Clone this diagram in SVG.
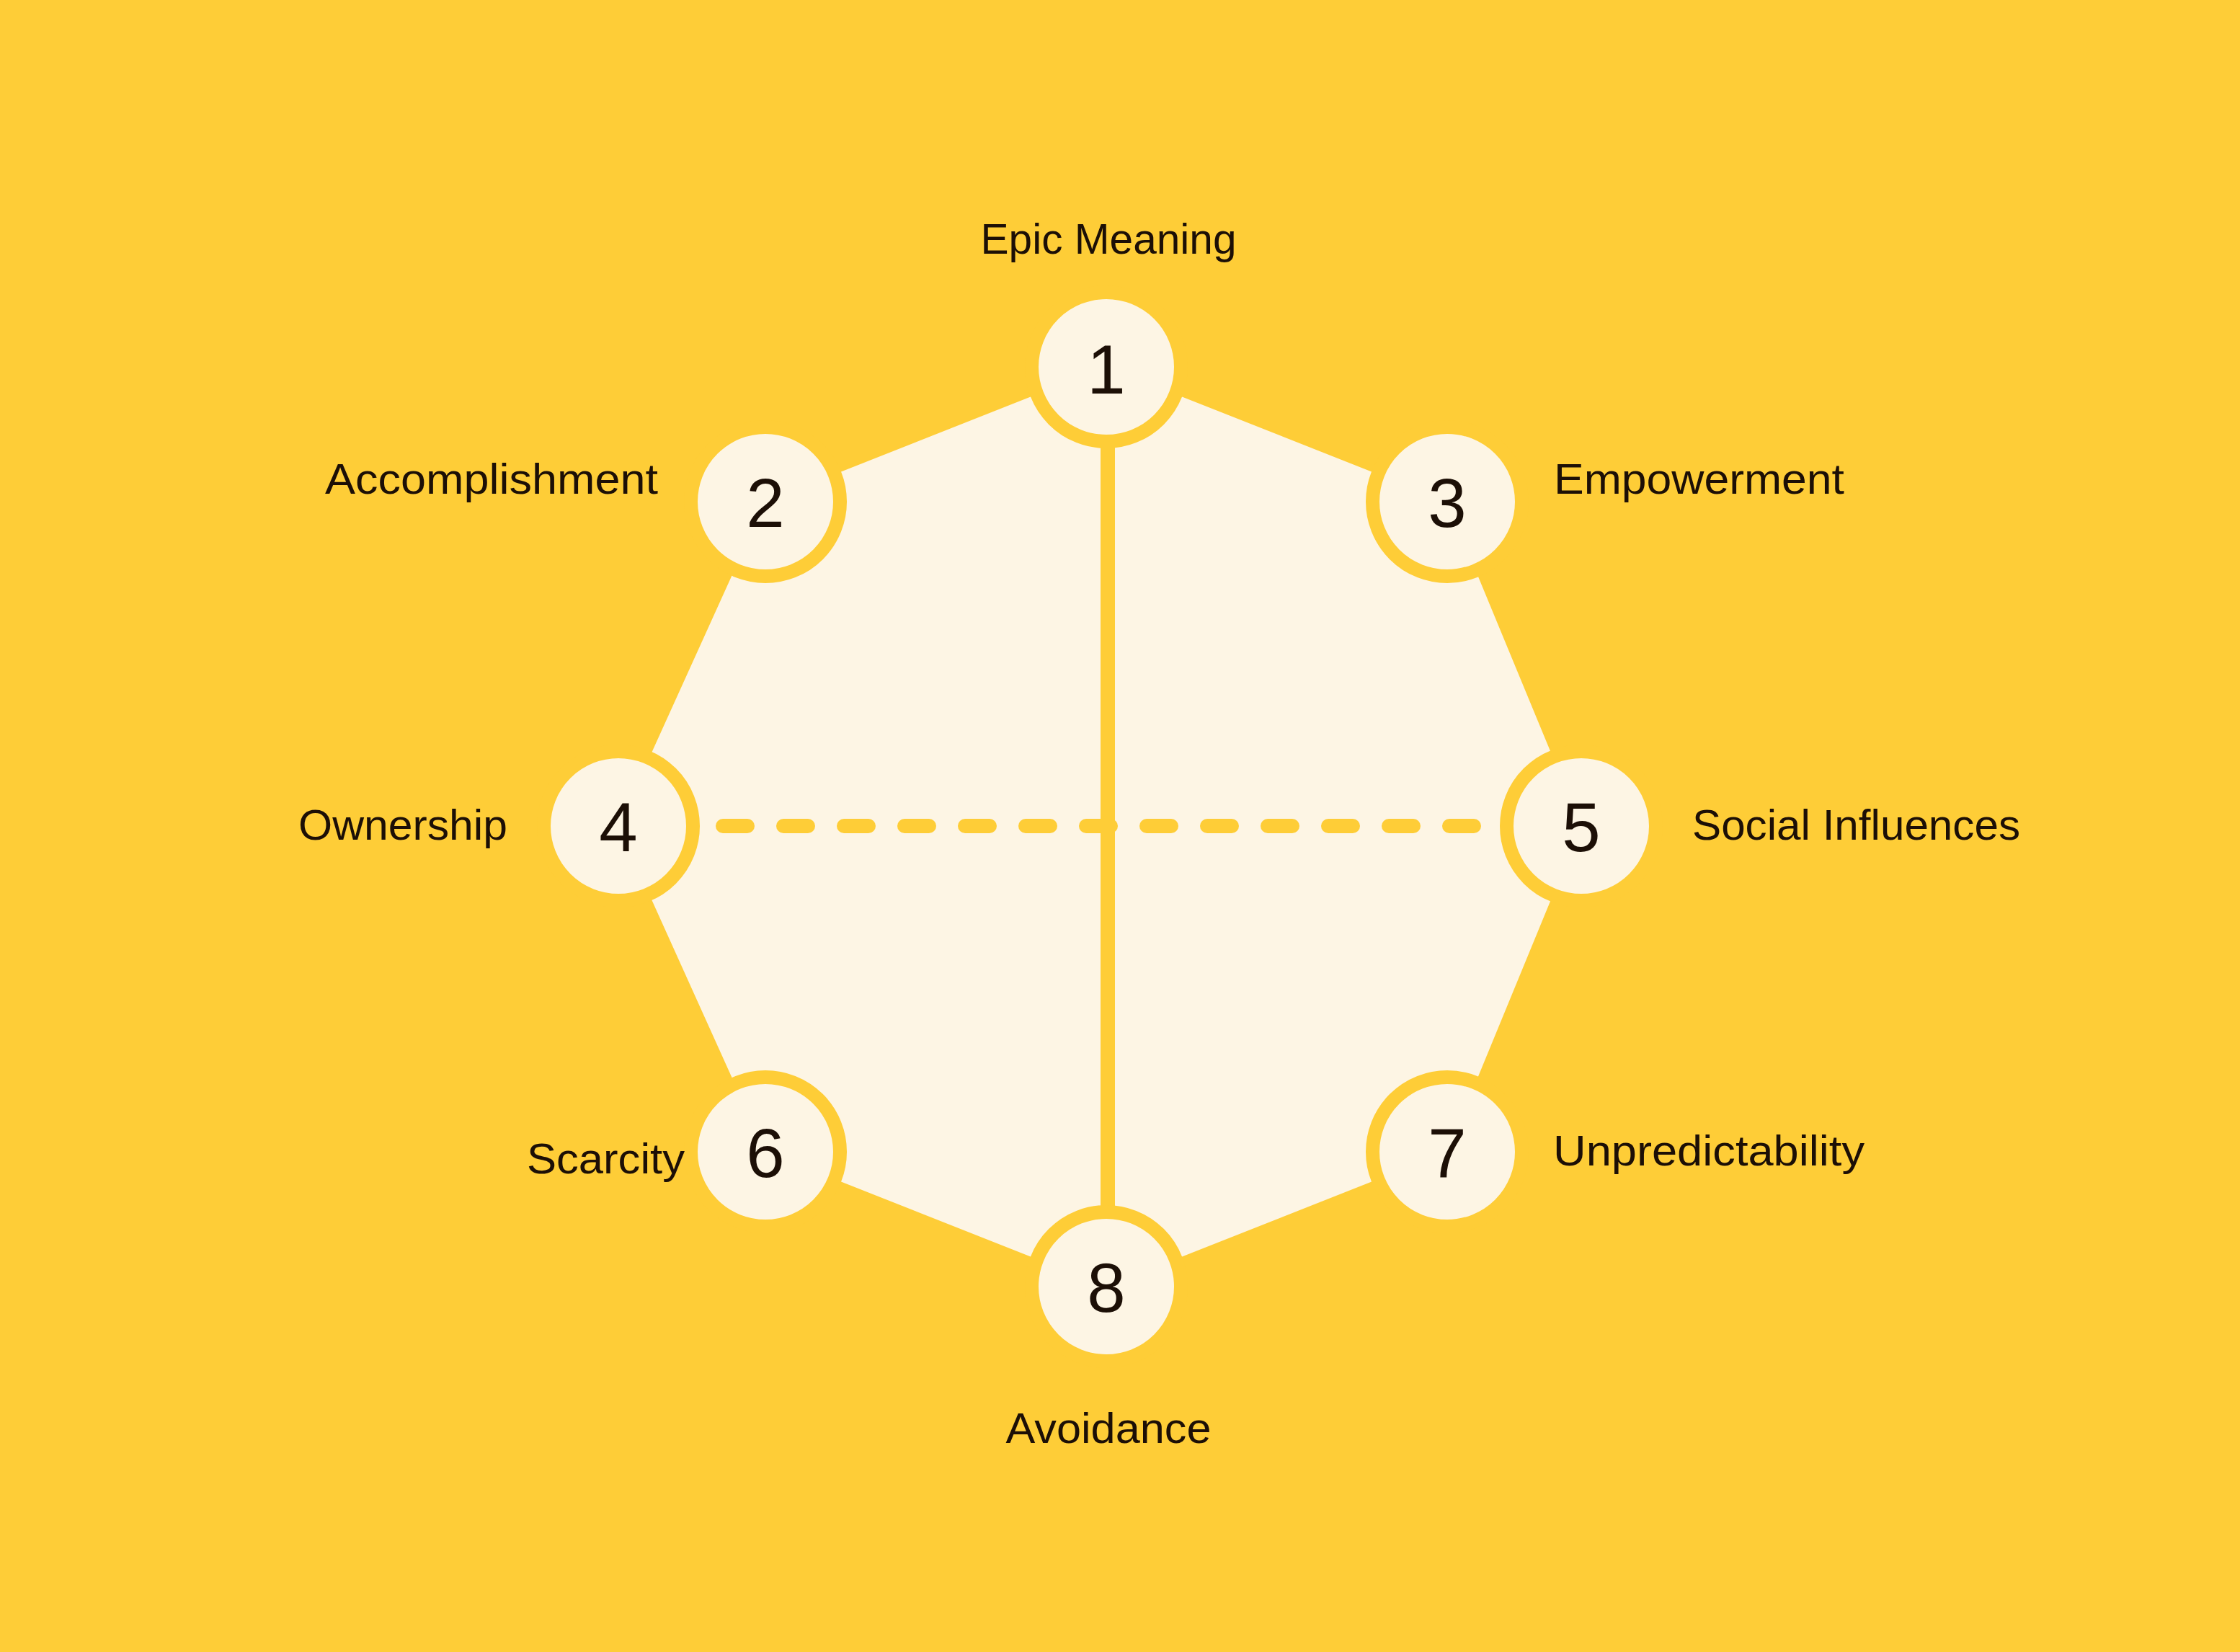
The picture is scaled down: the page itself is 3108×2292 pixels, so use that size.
<svg xmlns="http://www.w3.org/2000/svg" width="3108" height="2292" viewBox="0 0 3108 2292">
<style>
.bg{fill:#FECD37}
.oct{fill:#FDF5E4}
.ring{fill:#FDF5E4;stroke:#FECD37;stroke-width:19}
.num{font-family:"Liberation Sans",Arial,sans-serif;font-size:96px;fill:#1C0F06;text-anchor:middle}
.lbl{font-family:"Liberation Sans",Arial,sans-serif;font-size:59px;fill:#1C0F06}
.axis{stroke:#FECD37;stroke-width:20;fill:none}
.dash{stroke:#FECD37;stroke-width:20;fill:none;stroke-linecap:round;stroke-dasharray:34 50}
</style>
<rect class="bg" x="0" y="0" width="3108" height="2292"/>
<polygon id="octagon" class="oct" points="1535,509 2008,696 2194,1146 2008,1598 1535,1785 1062,1598 858,1146 1062,696"/>
<g id="connectors">
<line class="axis" x1="1537" y1="509" x2="1537" y2="1785"/>
<line class="dash" x1="1003" y1="1146" x2="2045" y2="1146"/>
</g>
<g id="node1"><circle class="ring" cx="1535" cy="509" r="103.5"/><text class="num" x="1535" y="546">1</text><text class="lbl" x="1538" y="352" text-anchor="middle" textLength="355" lengthAdjust="spacingAndGlyphs">Epic Meaning</text></g>
<g id="node2"><circle class="ring" cx="1062" cy="696" r="103.5"/><text class="num" x="1062" y="731">2</text><text class="lbl" x="913" y="685" text-anchor="end" textLength="462" lengthAdjust="spacingAndGlyphs">Accomplishment</text></g>
<g id="node3"><circle class="ring" cx="2008" cy="696" r="103.5"/><text class="num" x="2008" y="731">3</text><text class="lbl" x="2156" y="685" textLength="403" lengthAdjust="spacingAndGlyphs">Empowerment</text></g>
<g id="node4"><circle class="ring" cx="858" cy="1146" r="103.5"/><text class="num" x="858" y="1181">4</text><text class="lbl" x="704" y="1165" text-anchor="end" textLength="290" lengthAdjust="spacingAndGlyphs">Ownership</text></g>
<g id="node5"><circle class="ring" cx="2194" cy="1146" r="103.5"/><text class="num" x="2194" y="1181">5</text><text class="lbl" x="2348" y="1165" textLength="455" lengthAdjust="spacingAndGlyphs">Social Influences</text></g>
<g id="node6"><circle class="ring" cx="1062" cy="1598" r="103.5"/><text class="num" x="1062" y="1633">6</text><text class="lbl" x="950" y="1628" text-anchor="end" textLength="219" lengthAdjust="spacingAndGlyphs">Scarcity</text></g>
<g id="node7"><circle class="ring" cx="2008" cy="1598" r="103.5"/><text class="num" x="2008" y="1633">7</text><text class="lbl" x="2155" y="1617" textLength="432" lengthAdjust="spacingAndGlyphs">Unpredictability</text></g>
<g id="node8"><circle class="ring" cx="1535" cy="1785" r="103.5"/><text class="num" x="1535" y="1820">8</text><text class="lbl" x="1538" y="2002" text-anchor="middle" textLength="285" lengthAdjust="spacingAndGlyphs">Avoidance</text></g>
</svg>
